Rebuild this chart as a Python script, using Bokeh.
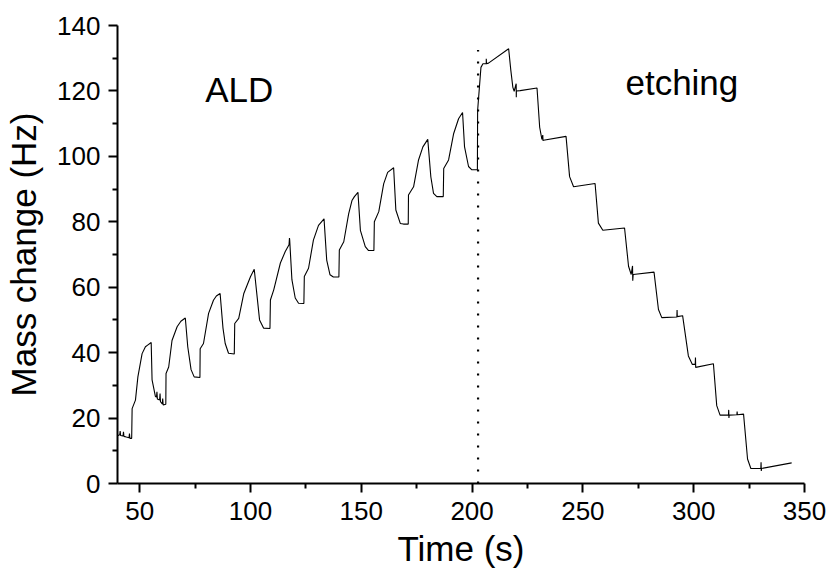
from bokeh.plotting import figure
from bokeh.models import Range1d, FixedTicker, Label
from bokeh.embed import file_html
from bokeh.resources import INLINE

# ---- data ----
time_s = [
    40.0, 41.0, 41.2, 41.4, 42.5, 42.7, 42.9, 44.0, 45.2, 45.4, 45.6, 46.4,
    46.6, 48.1, 49.2, 51.1, 52.6, 53.6, 55.2,
    55.6, 57.1, 57.6, 57.8, 58.0, 59.0, 59.2, 59.4, 60.2, 60.4, 60.6, 61.8,
    61.9, 63.1, 64.6, 66.9, 68.6, 70.6, 71.7, 73.2, 74.6, 77.2,
    77.3, 78.8, 81.1, 83.3, 84.6, 86.3, 87.6, 88.6, 90.1, 92.7,
    92.9, 94.7, 97.0, 100.0, 101.7, 104.1, 105.9, 108.8,
    109.0, 110.5, 113.5, 115.7, 117.4, 117.6, 117.7, 118.7, 120.2, 121.7, 124.1,
    124.3, 126.2, 128.4, 130.7, 133.2, 134.4, 135.9, 137.4, 139.9,
    140.1, 142.1, 144.3, 145.8, 146.9, 148.5, 149.6, 151.8, 153.3, 155.7,
    155.9, 157.9, 160.1, 161.9, 164.6, 165.6, 167.6, 169.0, 171.2,
    171.3, 173.6, 175.8, 177.8, 180.0, 181.4, 182.6, 184.1, 187.0,
    187.2, 189.4, 191.7, 193.9, 195.7, 196.6, 198.4, 199.9, 202.4,
    202.5, 204.0, 204.9, 206.4, 206.4, 206.5, 207.4, 216.5, 217.5, 218.4, 219.0,
    219.9, 219.95, 220.0, 221.7, 229.3,
    230.5, 231.5, 231.9, 232.0, 232.2, 242.4,
    244.0, 245.8, 255.5,
    257.0, 259.0, 268.8,
    270.6, 271.8, 272.4, 272.5, 272.7, 282.1,
    284.1, 285.6, 292.4, 292.5, 292.6, 295.0,
    297.6, 299.4, 300.7, 300.8, 300.9, 308.9,
    310.4, 311.9, 315.7, 315.8, 315.9, 316.0, 319.5, 319.6, 319.7, 322.5,
    324.3, 325.8, 330.3, 330.4, 330.5, 330.6, 344.2,
]
mass_hz = [
    14.6, 14.9, 16.0, 14.7, 14.5, 15.8, 14.4, 14.2, 14.0, 15.3, 13.8, 13.8,
    22.9, 25.5, 32.6, 39.7, 41.8, 42.3, 43.1,
    31.7, 26.6, 26.4, 28.0, 25.8, 25.5, 27.5, 25.0, 24.3, 26.0, 24.0, 24.2,
    33.6, 35.6, 43.7, 47.9, 49.6, 50.6, 41.8, 34.8, 32.6, 32.4,
    41.2, 42.8, 52.0, 56.0, 57.3, 58.1, 47.5, 42.8, 39.8, 39.6,
    48.9, 50.5, 58.1, 63.2, 65.5, 50.0, 47.5, 47.4,
    56.1, 59.2, 67.4, 70.9, 73.0, 75.0, 74.4, 62.3, 56.7, 55.1, 55.0,
    63.3, 65.8, 74.4, 78.9, 80.9, 68.3, 63.8, 63.1, 63.1,
    71.4, 73.9, 82.4, 86.5, 87.7, 89.0, 77.4, 72.4, 71.2, 71.2,
    80.0, 83.1, 91.6, 95.1, 96.5, 83.6, 79.5, 79.3, 79.3,
    88.2, 90.7, 98.8, 102.9, 105.2, 93.7, 88.7, 87.7, 87.7,
    96.3, 98.9, 107.0, 111.5, 113.4, 102.9, 96.9, 95.9, 95.9,
    114.0, 127.2, 128.3, 128.3, 129.8, 128.3, 128.5, 132.9, 126.2, 121.1, 119.9,
    122.2, 118.1, 120.0, 120.1, 120.9,
    108.9, 105.2, 106.5, 104.8, 104.9, 106.1,
    93.8, 90.7, 91.7,
    79.6, 77.4, 78.1,
    66.4, 63.9, 66.5, 62.0, 63.9, 64.6,
    53.2, 50.7, 50.9, 53.0, 51.0, 51.3,
    39.0, 36.4, 36.5, 38.5, 35.5, 36.6,
    23.8, 20.9, 20.9, 22.5, 20.0, 20.9, 21.0, 22.0, 21.0, 21.2,
    7.5, 4.6, 4.6, 6.5, 3.8, 4.6, 6.3,
]
divider_time = [202.7, 202.7]
divider_mass = [0, 132.5]

x_major = [50, 100, 150, 200, 250, 300, 350]
x_minor = [75, 125, 175, 225, 275, 325]
y_major = [0, 20, 40, 60, 80, 100, 120, 140]
y_minor = [10, 30, 50, 70, 90, 110, 130]

FONT = "Liberation Sans"

p = figure(width=833, height=571, output_backend="svg", toolbar_location=None,
           x_range=Range1d(40, 350), y_range=Range1d(0, 140),
           min_border_left=117, min_border_right=29, min_border_top=25,
           min_border_bottom=88)
p.outline_line_color = None
p.xgrid.visible = False
p.ygrid.visible = False
p.background_fill_color = "white"
p.border_fill_color = "white"

p.line(time_s, mass_hz, line_color="black", line_width=1.1)
p.line(divider_time, divider_mass, line_color="black", line_width=2.2,
       line_dash="2 10")

for ax, maj, mn in ((p.xaxis[0], x_major, x_minor), (p.yaxis[0], y_major, y_minor)):
    ax.ticker = FixedTicker(ticks=maj, minor_ticks=mn)
    ax.axis_line_width = 2
    ax.axis_line_color = "black"
    ax.major_tick_line_width = 2
    ax.minor_tick_line_width = 2
    ax.major_tick_out = 9
    ax.major_tick_in = 0
    ax.minor_tick_out = 5
    ax.minor_tick_in = 0
    ax.major_label_text_font = FONT
    ax.major_label_text_font_size = "26px"
    ax.major_label_text_color = "black"
    ax.axis_label_text_font = FONT
    ax.axis_label_text_font_size = "35px"
    ax.axis_label_text_font_style = "normal"
    ax.axis_label_text_color = "black"

p.xaxis.axis_label = "Time (s)"
p.yaxis.axis_label = "Mass change (Hz)"
p.xaxis.major_label_standoff = 9
p.yaxis.major_label_standoff = 8
p.xaxis.axis_label_standoff = 6
p.yaxis.axis_label_standoff = 11

p.add_layout(Label(x=79.6, y=120.4, text="ALD", text_font=FONT,
                   text_font_size="35px", text_color="black",
                   text_baseline="alphabetic"))
p.add_layout(Label(x=269.2, y=122.7, text="etching", text_font=FONT,
                   text_font_size="35px", text_color="black",
                   text_baseline="alphabetic"))

open("out.html", "w").write(file_html(p, INLINE))
